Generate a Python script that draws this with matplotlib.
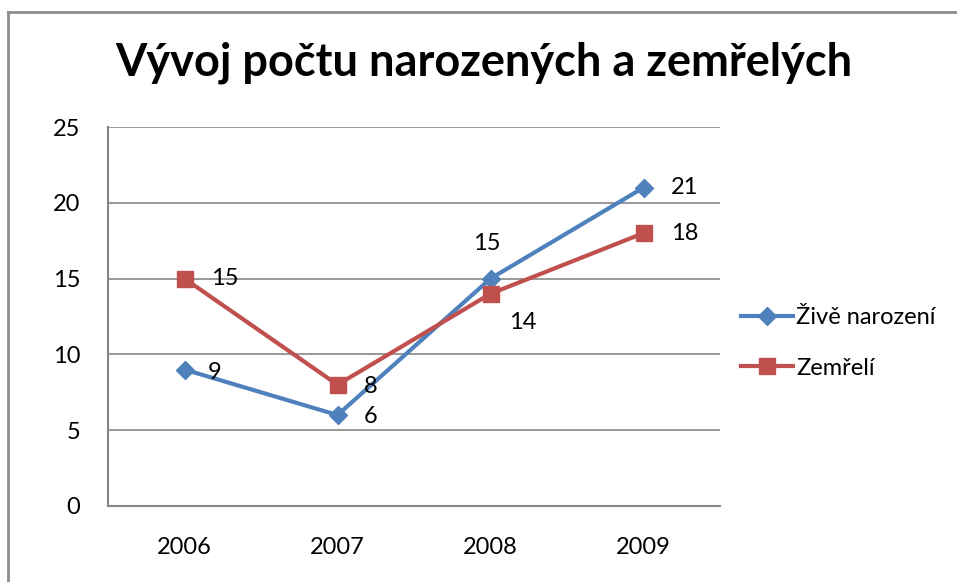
import matplotlib.pyplot as plt
from matplotlib.lines import Line2D

years = ['2006', '2007', '2008', '2009']
zive_narozeni = [9, 6, 15, 21]
zemreli = [15, 8, 14, 18]

# label offsets in points (per point), like the Excel placement
zive_offsets = [(17, -2), (19, -1), (-3, 25), (20, 0)]
zemreli_offsets = [(19, 0), (19, -1), (13, -21), (20, 0)]

blue = '#4F81BD'
red = '#C0504D'
grid_col = '#868686'

plt.rcParams['font.family'] = ['Lato', 'DejaVu Sans']

fig = plt.figure(figsize=(9.57, 5.82), dpi=100)
ax = fig.add_axes([108/957, 76/582, 612/957, 379/582])

x = range(len(years))
ax.plot(x, zive_narozeni, color=blue, lw=3, marker='D', ms=9, label='Živě narození', zorder=3)
ax.plot(x, zemreli, color=red, lw=3, marker='s', ms=11.5, label='Zemřelí', zorder=3)

for i, v in enumerate(zive_narozeni):
    ax.annotate(str(v), (i, v), xytext=zive_offsets[i], textcoords='offset points',
                ha='left' if zive_offsets[i][0] > 0 else 'center', va='center', fontsize=17)
for i, v in enumerate(zemreli):
    ax.annotate(str(v), (i, v), xytext=zemreli_offsets[i], textcoords='offset points',
                ha='left', va='center', fontsize=17)

ax.set_xlim(-0.5, 3.5)
ax.set_ylim(0, 25)
ax.set_yticks([0, 5, 10, 15, 20, 25])
ax.set_xticks(list(x))
ax.set_xticklabels(years)
ax.tick_params(axis='both', length=0, labelsize=17)
ax.tick_params(axis='y', pad=20)
ax.tick_params(axis='x', pad=22)
ax.grid(axis='y', color=grid_col, lw=1.2)
ax.set_axisbelow(True)
for s in ['top', 'right']:
    ax.spines[s].set_visible(False)
for s in ['left', 'bottom']:
    ax.spines[s].set_color(grid_col)
    ax.spines[s].set_linewidth(1.5)

fig.text(0.506, 1 - 63/582, 'Vývoj počtu narozených a zemřelých', ha='center', va='center',
         fontsize=32.5, fontweight='bold')

fig.legend(loc='center left', bbox_to_anchor=(741/957, 1 - 343/582), frameon=False,
           fontsize=17, borderpad=0, borderaxespad=0, handlelength=2.2,
           handletextpad=0.15, labelspacing=1.25)

# chart border (only top and left edges visible in the crop)
fig.add_artist(Line2D([8/957, 1.0], [1 - 12/582, 1 - 12/582], transform=fig.transFigure,
                      color='#8C8C8C', lw=2))
fig.add_artist(Line2D([8/957, 8/957], [0, 1 - 12/582], transform=fig.transFigure,
                      color='#8C8C8C', lw=2))

fig.savefig('out.png', dpi=100)
